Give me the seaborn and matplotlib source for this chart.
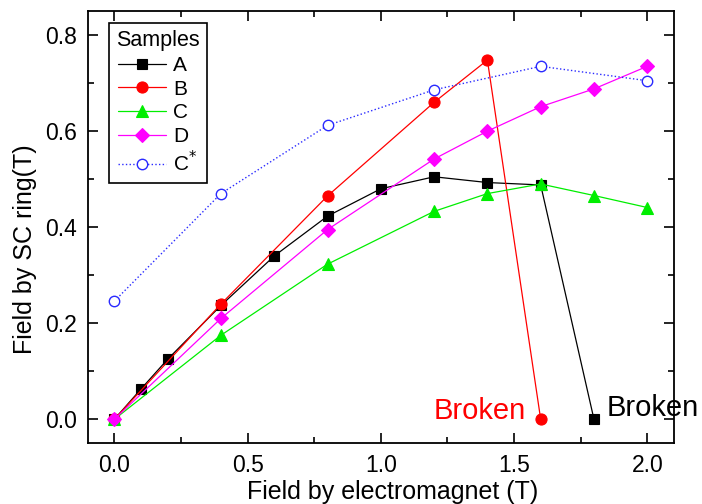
import matplotlib
matplotlib.use("Agg")
import matplotlib.pyplot as plt
import seaborn as sns
import pandas as pd
from matplotlib.ticker import MultipleLocator

# ---- data ----
a_x = [0, 0.1, 0.2, 0.4, 0.6, 0.8, 1.0, 1.2, 1.4, 1.6, 1.8]
a_y = [0, 0.063, 0.125, 0.237, 0.340, 0.423, 0.480, 0.505, 0.493, 0.488, 0]
b_x = [0, 0.4, 0.8, 1.2, 1.4, 1.6]
b_y = [0, 0.240, 0.465, 0.660, 0.748, 0]
c_x = [0, 0.4, 0.8, 1.2, 1.4, 1.6, 1.8, 2.0]
c_y = [0, 0.175, 0.323, 0.433, 0.470, 0.490, 0.466, 0.441]
d_x = [0, 0.4, 0.8, 1.2, 1.4, 1.6, 1.8, 2.0]
d_y = [0, 0.210, 0.395, 0.542, 0.600, 0.651, 0.688, 0.735]
cs_x = [0, 0.4, 0.8, 1.2, 1.6, 2.0]
cs_y = [0.246, 0.470, 0.612, 0.686, 0.735, 0.705]
labels = ["A", "B", "C", "D", "C$^{*}$"]

sns.set_style("ticks")
plt.rcParams["font.family"] = ["Liberation Sans", "DejaVu Sans"]
plt.rcParams["text.color"] = "black"
plt.rcParams["axes.labelcolor"] = "black"
plt.rcParams["xtick.color"] = "black"
plt.rcParams["ytick.color"] = "black"
plt.rcParams["xtick.labelcolor"] = "black"
plt.rcParams["ytick.labelcolor"] = "black"

fig = plt.figure(figsize=(7.02, 5.04), dpi=100)
ax = fig.add_axes([0.1249, 0.1204, 0.960 - 0.1249, 0.978 - 0.1204])

series = [
    (a_x, a_y, labels[0], dict(color="black", marker="s", ms=7, mfc="black", mec="black", ls="-")),
    (b_x, b_y, labels[1], dict(color="#ff0000", marker="o", ms=8, mfc="#ff0000", mec="#ff0000", ls="-")),
    (c_x, c_y, labels[2], dict(color="#00ee00", marker="^", ms=9, mfc="#00ee00", mec="#00ee00", ls="-")),
    (d_x, d_y, labels[3], dict(color="#ff00ff", marker="D", ms=7.5, mfc="#ff00ff", mec="#ff00ff", ls="-")),
    (cs_x, cs_y, labels[4], dict(color="#2a2aff", marker="o", ms=7.5, mfc="white", mec="#2a2aff", mew=1.0, ls=":")),
]
for xs, ys, lab, kw in series:
    df = pd.DataFrame({"x": xs, "y": ys})
    sns.lineplot(data=df, x="x", y="y", ax=ax, sort=False, label=lab,
                 color=kw["color"], marker=kw["marker"], markersize=kw["ms"],
                 markerfacecolor=kw["mfc"], markeredgecolor=kw["mec"],
                 markeredgewidth=kw.get("mew", 0.8), linestyle=kw["ls"],
                 linewidth=1.0 if kw["ls"] == ":" else 0.9)

ax.set_xlim(-0.1, 2.1)
ax.set_ylim(-0.05, 0.85)
ax.xaxis.set_major_locator(MultipleLocator(0.5))
ax.xaxis.set_minor_locator(MultipleLocator(0.25))
ax.yaxis.set_major_locator(MultipleLocator(0.2))
ax.yaxis.set_minor_locator(MultipleLocator(0.1))
ax.tick_params(which="both", direction="in", top=True, right=True, width=1.2,
               color="black", labelcolor="black")
ax.tick_params(which="major", length=7, labelsize=16.5, pad=8)
ax.tick_params(which="minor", length=4)
for s in ax.spines.values():
    s.set_linewidth(1.3)
    s.set_color("black")

ax.set_xlabel("Field by electromagnet (T)", fontsize=18, color="black")
ax.set_ylabel("Field by SC ring(T)", fontsize=18, color="black")
ax.xaxis.set_label_coords(0.52, -0.085)
ax.yaxis.set_label_coords(-0.087, 0.45)

ax.text(1.544, 0.0, "Broken", color="#ff0000", fontsize=21, ha="right", va="baseline")
ax.text(1.847, 0.007, "Broken", color="black", fontsize=21, ha="left", va="baseline")

leg = ax.legend(title="Samples", loc="upper left", bbox_to_anchor=(0.036, 0.972),
                fontsize=15, title_fontsize=15.5, frameon=True, fancybox=False,
                shadow=False, handlelength=2.3, handletextpad=0.35,
                borderpad=0.35, labelspacing=0.22, borderaxespad=0)
frame = leg.get_frame()
frame.set_linewidth(1.2)
frame.set_alpha(1.0)
frame.set_facecolor("white")
frame.set_edgecolor("black")
for t in leg.get_texts():
    t.set_color("black")
leg.get_title().set_color("black")

fig.savefig("out.png", dpi=100)
